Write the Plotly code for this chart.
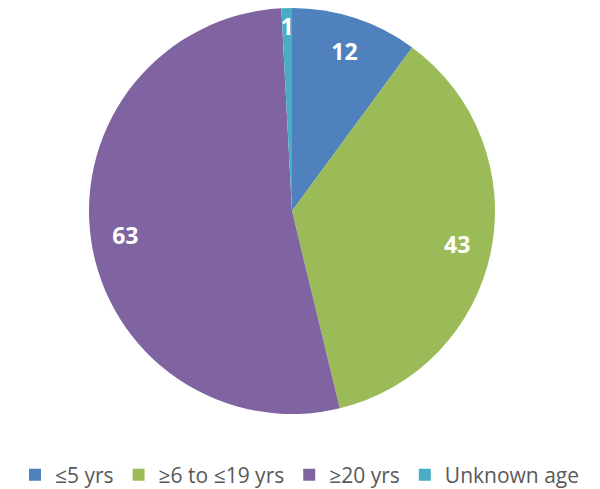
import plotly.graph_objects as go

categories = ["≤5 yrs", "≥6 to ≤19 yrs", "≥20 yrs", "Unknown age"]
values = [12, 43, 63, 1]
colors = ["#4F81BD", "#9BBB59", "#8064A2", "#4BACC6"]

W, H = 600, 489
cx, cy, R = 292, 211, 203


def dom(r):
    return dict(x=[(cx - r) / W, (cx + r) / W], y=[1 - (cy + r) / H, 1 - (cy - r) / H])


clear = ["rgba(0,0,0,0)"] * len(values)
big_tpl = ["%{value}" if v > 5 else "" for v in values]
small_tpl = ["%{value}" if v <= 5 else "" for v in values]
label_font = dict(family="Open Sans", size=23, color="white", weight="bold")

common = dict(labels=categories, values=values, sort=False, direction="clockwise", rotation=0)

fig = go.Figure()
# visible slices
fig.add_trace(go.Pie(
    **common,
    marker=dict(colors=colors, line=dict(width=0)),
    textinfo="none",
    domain=dom(R),
    hoverinfo="label+value",
))
# labels for the large slices, placed in the outer ring
fig.add_trace(go.Pie(
    **common,
    hole=0.66,
    marker=dict(colors=clear, line=dict(width=0)),
    texttemplate=big_tpl,
    textposition="inside",
    insidetextorientation="horizontal",
    textfont=label_font,
    domain=dom(R),
    showlegend=False,
    hoverinfo="skip",
))
# label for the thin slice
fig.add_trace(go.Pie(
    **common,
    marker=dict(colors=clear, line=dict(width=0)),
    texttemplate=small_tpl,
    textposition="inside",
    insidetextorientation="horizontal",
    textfont=label_font,
    domain=dom(190),
    showlegend=False,
    hoverinfo="skip",
))

fig.update_layout(
    width=W, height=H,
    margin=dict(l=0, r=0, t=0, b=0, autoexpand=False),
    paper_bgcolor="white",
    plot_bgcolor="white",
    showlegend=True,
    uniformtext=dict(minsize=23, mode="show"),
    legend=dict(
        orientation="h",
        x=0.5, xanchor="center",
        y=1 - 475 / H, yanchor="middle",
        font=dict(family="Open Sans", size=21, color="#595959"),
        itemwidth=30,
        traceorder="normal",
    ),
)

fig.write_html("out.html", config={"displayModeBar": False},
               post_script="document.body.style.margin='0';")
